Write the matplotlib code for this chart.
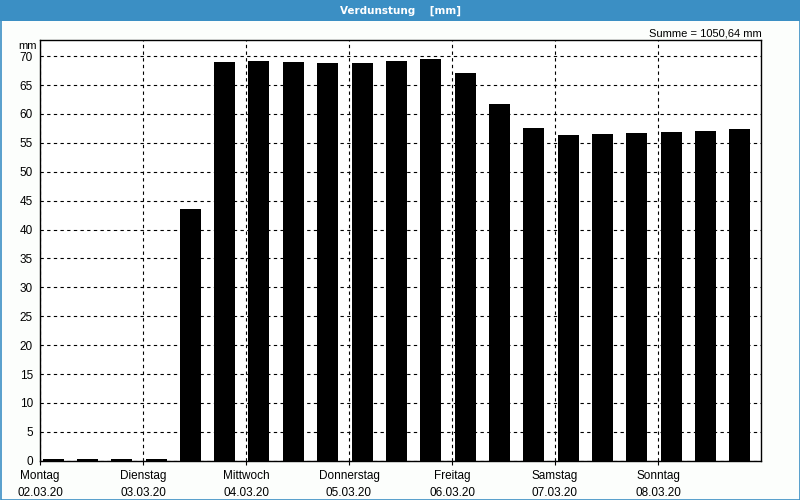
import matplotlib
matplotlib.use("Agg")
import matplotlib.pyplot as plt
import numpy as np
from matplotlib.patches import Rectangle

day_names = ["Montag", "Dienstag", "Mittwoch", "Donnerstag", "Freitag", "Samstag", "Sonntag"]
dates = ["02.03.20", "03.03.20", "04.03.20", "05.03.20", "06.03.20", "07.03.20", "08.03.20"]
values = [0.3, 0.3, 0.3, 0.3, 43.5, 69.0, 69.15, 69.0, 68.8, 68.8, 69.15, 69.5,
          67.1, 61.7, 57.5, 56.3, 56.5, 56.7, 56.9, 57.0, 57.4]
y_ticks = [0, 5, 10, 15, 20, 25, 30, 35, 40, 45, 50, 55, 60, 65, 70]
title = "Verdunstung    [mm]"
summe = "Summe = 1050,64 mm"

BLUE = "#3b8fc4"
BG = "#fcfefc"

plt.rcParams['font.family'] = ['Liberation Sans', 'DejaVu Sans']
fig = plt.figure(figsize=(8, 5), dpi=100, facecolor=BG)

# title bar and border
fig.patches.append(Rectangle((0, 1 - 21/500), 1, 21/500, transform=fig.transFigure,
                             facecolor=BLUE, edgecolor='none', zorder=0))
fig.patches.append(Rectangle((0.5/800, 0.5/500), 1 - 1/800, 1 - 1/500, transform=fig.transFigure,
                             facecolor='none', edgecolor=BLUE, lw=1.2, zorder=5))
fig.text(0.5, 1 - 10.5/500, title, color='white', fontsize=7.5, fontweight='bold',
         ha='center', va='center', family=['DejaVu Sans'])

ax = fig.add_axes([40/800, 1 - 460.7/500, 721/800, 420.7/500])
ax.set_facecolor('white')

per_day = 3
n = len(values)
x = np.arange(n) / per_day + 13/103
ax.bar(x, values, width=21/103, color='black', zorder=3)

ax.set_xlim(0, len(day_names))
ax.set_ylim(0, 72.8)
ax.set_yticks(y_ticks)
ax.set_yticklabels([str(v) for v in y_ticks], fontsize=8.5)
ax.tick_params(axis='y', length=0, pad=5)
ax.set_xticks(np.arange(len(day_names)))
ax.set_xticklabels([f"{d}\n{t}" for d, t in zip(day_names, dates)], fontsize=8.5, linespacing=1.5)
ax.tick_params(axis='x', length=3, direction='out', pad=4)

for s in ax.spines.values():
    s.set_linewidth(1.0)
    s.set_color('black')

ax.grid(True, color='black', linestyle=(0, (3, 3)), linewidth=0.8, zorder=1)
ax.set_axisbelow(True)

fig.text(28/800, 1 - 46/500, "mm", fontsize=8, ha='center', va='center')
fig.text(762/800, 1 - 33/500, summe, fontsize=8, ha='right', va='center')

fig.savefig("out.png", dpi=100, facecolor=BG)
